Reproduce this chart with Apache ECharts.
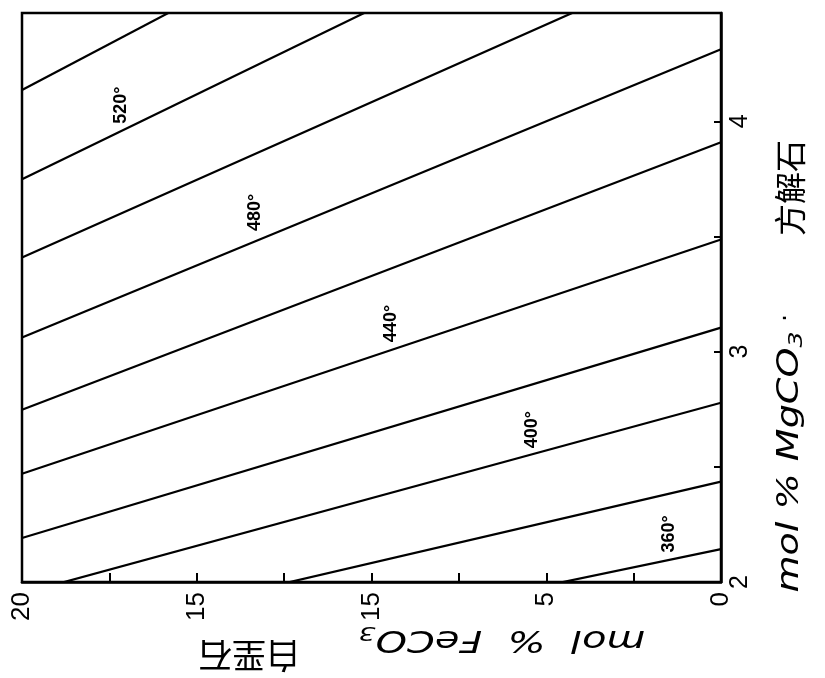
<!DOCTYPE html>
<html>
<head>
<meta charset="utf-8">
<script src="https://cdn.jsdelivr.net/npm/echarts@6/dist/echarts.min.js"></script>
<style>html,body{margin:0;padding:0;background:#fff}#c{width:825px;height:678px}</style>
</head>
<body>
<div id="c"></div>
<script>
// Isotherms (°C): MgCO3 mol% in calcite at FeCO3 = 0 and FeCO3 = 20 mol%
const temps = [360, 380, 400, 420, 440, 460, 480, 500, 520, 540];
const mgAtFe0 = [2.143, 2.436, 2.778, 3.104, 3.487, 3.909, 4.313, 4.757, 5.223, 5.732];
const mgAtFe20 = [1.510, 1.729, 1.950, 2.191, 2.470, 2.748, 3.061, 3.409, 3.748, 4.136];
// isotherm labels
const labelTemps = [360, 400, 440, 480, 520];
const labelFe = [1.49, 5.4, 9.43, 13.34, 17.17];
const labelMg = [2.209, 2.661, 3.122, 3.604, 4.07];
// tick labels
const xTickValues = [0, 5, 10, 15, 20];
const xTickText = ['0', '5', '15', '15', '20'];
const yTickValues = [2, 3, 4];
const yTickText = ['2', '3', '4'];
// axis titles
const xTitleLatin = 'mol  %  FeCO';
const xTitleCjk = '白垩石';
const yTitleLatin = 'mol % MgCO';
const yTitleCjk = '方解石';

const numFont = '"Liberation Sans", Arial, sans-serif';
const latinFont = '"DejaVu Sans", sans-serif';
const cjkFont = '"Noto Sans CJK SC", sans-serif';
const latinRich = {
  l: {fontFamily: latinFont, fontStyle: 'italic', fontSize: 30, color: '#000'},
  s: {fontFamily: latinFont, fontStyle: 'italic', fontSize: 20, color: '#000', padding: [14, 0, 0, 0]}
};

const series = temps.map((t, i) => ({
  type: 'line',
  name: String(t),
  data: [[20, mgAtFe20[i]], [0, mgAtFe0[i]]],
  symbol: 'none',
  clip: true,
  silent: true,
  lineStyle: {color: '#000', width: 2.2}
}));
series.push({
  type: 'scatter',
  symbolSize: 0,
  silent: true,
  itemStyle: {opacity: 1, color: '#000'},
  data: labelTemps.map((t, i) => ({value: [labelFe[i], labelMg[i]], t: t})),
  label: {
    show: true,
    position: 'inside',
    rotate: 90,
    formatter: p => p.data.t + '°',
    fontFamily: numFont,
    fontWeight: 'bold',
    fontSize: 18,
    color: '#000',
    opacity: 1
  }
});

const chart = echarts.init(document.getElementById('c'));
chart.setOption({
  backgroundColor: '#fff',
  animation: false,
  grid: {left: 22, right: 104, top: 13, bottom: 96, show: true, borderColor: '#000', borderWidth: 2.5, backgroundColor: 'transparent'},
  xAxis: {
    type: 'value', min: 0, max: 20, interval: 2.5, inverse: true,
    axisLine: {show: true, lineStyle: {color: '#000', width: 2.5}},
    axisTick: {show: true, inside: true, length: 9, lineStyle: {color: '#000', width: 2}},
    splitLine: {show: false},
    axisLabel: {
      rotate: 90, margin: 10, fontSize: 26, color: '#000', fontFamily: numFont,
      formatter: v => { const k = xTickValues.indexOf(v); return k >= 0 ? xTickText[k] : ''; }
    }
  },
  yAxis: {
    type: 'value', position: 'right', min: 2, max: 4.47, interval: 0.5,
    axisLine: {show: true, lineStyle: {color: '#000', width: 2.5}},
    axisTick: {show: true, inside: true, length: 7, lineStyle: {color: '#000', width: 2}},
    splitLine: {show: false},
    axisLabel: {
      rotate: 90, margin: 7, fontSize: 25, color: '#000', fontFamily: numFont, showMaxLabel: false,
      formatter: v => { const k = yTickValues.indexOf(v); return k >= 0 ? yTickText[k] : ''; }
    }
  },
  graphic: [
    {type: 'text', x: 502, y: 639, rotation: Math.PI, scaleX: 1.33, silent: true,
     style: {text: '{l|' + xTitleLatin + '}{s|3}', rich: latinRich, align: 'center', verticalAlign: 'middle'}},
    {type: 'text', x: 249, y: 656, rotation: Math.PI, silent: true,
     style: {text: xTitleCjk, fontFamily: cjkFont, fontSize: 34, fill: '#000', align: 'center', verticalAlign: 'middle'}},
    {type: 'text', x: 790, y: 462, rotation: Math.PI / 2, scaleX: 1.27, silent: true,
     style: {text: '{l|' + yTitleLatin + '}{s|3}', rich: latinRich, align: 'center', verticalAlign: 'middle'}},
    {type: 'text', x: 787, y: 318, rotation: Math.PI / 2, silent: true,
     style: {text: '·', fontFamily: latinFont, fontSize: 24, fill: '#000', align: 'center', verticalAlign: 'middle'}},
    {type: 'text', x: 790, y: 188, rotation: Math.PI / 2, silent: true,
     style: {text: yTitleCjk, fontFamily: cjkFont, fontSize: 32, fill: '#000', align: 'center', verticalAlign: 'middle'}}
  ],
  series: series
});
</script>
</body>
</html>
